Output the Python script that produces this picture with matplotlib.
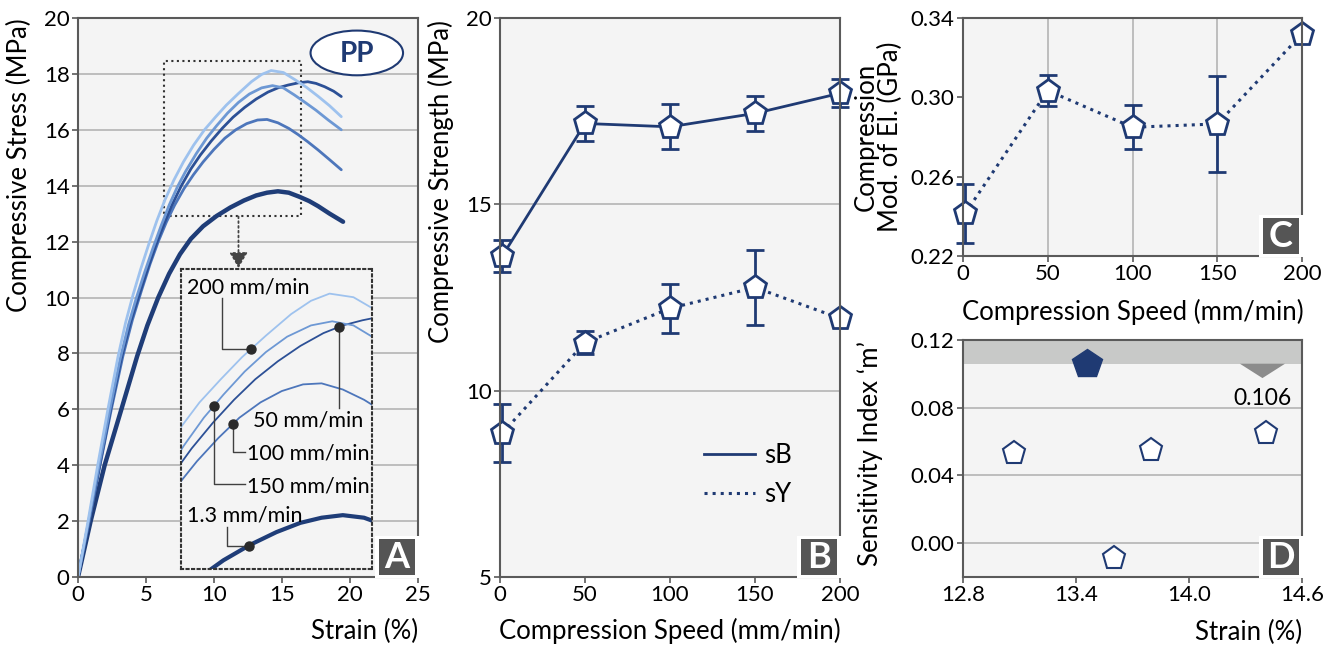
import numpy as np
import matplotlib
matplotlib.use("Agg")
import matplotlib.pyplot as plt
from matplotlib.patches import Rectangle, Ellipse, Polygon

plt.rcParams['font.family'] = ['Lato', 'DejaVu Sans']
plt.rcParams['font.size'] = 16

# ---------------- data ----------------
# panel A: stress-strain curves
strain_200 = [0, 0.74, 1.45, 2.2, 2.95, 3.5, 4.05, 4.6, 5.2, 5.8, 6.4, 7.05, 7.75, 8.5, 9.3, 10.1,
              10.9, 11.8, 12.75, 13.5, 14.2, 15.1, 15.93, 16.8, 17.65, 18.5, 19.36]
stress_200 = [0, 2, 4, 6, 7.9, 9.1, 10.1, 11.0, 11.9, 12.75, 13.5, 14.2, 14.85, 15.45, 16.0, 16.45,
              16.88, 17.3, 17.72, 17.98, 18.12, 18.05, 17.8, 17.52, 17.2, 16.86, 16.47]
strain_150 = [0, 0.78, 1.55, 2.35, 3.1, 3.7, 4.3, 4.9, 5.5, 6.1, 6.7, 7.3, 7.9, 8.7, 9.46, 10.2,
              11.0, 11.8, 12.6, 13.5, 14.3, 15.1, 15.9, 16.7, 17.5, 18.4, 19.36]
stress_150 = [0, 2, 4, 6, 7.8, 9.0, 10.0, 10.9, 11.75, 12.55, 13.3, 13.95, 14.5, 15.15, 15.7, 16.15,
              16.6, 16.98, 17.28, 17.5, 17.58, 17.5, 17.25, 16.98, 16.7, 16.35, 16.0]
strain_100 = [0, 0.82, 1.62, 2.45, 3.3, 4.0, 4.7, 5.3, 5.9, 6.5, 7.1, 7.8, 8.5, 9.2, 10.0, 10.8,
              11.6, 12.4, 13.2, 13.9, 14.7, 15.5, 16.18, 16.9, 17.65, 18.5, 19.36]
stress_100 = [0, 2, 4, 6, 7.9, 9.2, 10.3, 11.2, 12.0, 12.7, 13.3, 13.9, 14.4, 14.85, 15.3, 15.7,
              16.0, 16.22, 16.35, 16.37, 16.25, 16.05, 15.83, 15.57, 15.28, 14.93, 14.57]
strain_50 = [0, 0.8, 1.6, 2.4, 3.2, 3.85, 4.5, 5.1, 5.7, 6.3, 6.9, 7.6, 8.3, 9.0, 9.8, 10.6,
             11.4, 12.25, 13.1, 13.97, 14.7, 15.44, 16.2, 16.9, 17.5, 18.14, 18.8, 19.36]
stress_50 = [0, 2, 4, 6, 7.85, 9.1, 10.1, 11.0, 11.85, 12.6, 13.3, 14.0, 14.6, 15.1, 15.6, 16.05,
             16.45, 16.8, 17.1, 17.35, 17.5, 17.6, 17.68, 17.72, 17.66, 17.54, 17.38, 17.19]
strain_13 = [0, 0.93, 1.96, 3.19, 4.35, 5.1, 5.9, 6.7, 7.5, 8.3, 9.2, 10.2, 11.2, 12.2, 13.1,
             13.9, 14.7, 15.5, 16.3, 17.0, 17.65, 18.5, 19.49]
stress_13 = [0, 2, 4, 6, 7.9, 9.0, 10.0, 10.85, 11.55, 12.1, 12.55, 12.92, 13.22, 13.47, 13.65,
             13.75, 13.8, 13.75, 13.6, 13.45, 13.27, 13.0, 12.71]

# panels B, C
speed = [1.3, 50, 100, 150, 200]
sB = [13.61, 17.17, 17.08, 17.44, 17.98]
sB_err = [0.43, 0.48, 0.6, 0.48, 0.38]
sY = [8.86, 11.29, 12.21, 12.77, 11.94]
sY_err = [0.78, 0.3, 0.65, 1.0, 0.1]
modulus = [0.2415, 0.3034, 0.2849, 0.2866, 0.3319]
modulus_err = [0.0147, 0.008, 0.0112, 0.024, 0.0]

# panel D
d_strain = [13.07, 13.60, 13.80, 14.41]
d_m = [0.053, -0.009, 0.055, 0.065]
d_best_strain = 13.46
m_limit = 0.106

navy = '#1f3a73'
c200, c150, c100, c50, c13 = '#9ec2ee', '#6d98d4', '#4d76bb', '#2c5096', '#1f3d78'
bg = '#f4f4f4'
grid_c = '#b4b4b4'
spine_c = '#5a5a5a'
LBL = 18.5

W, H = 1338, 651
fig = plt.figure(figsize=(W / 100, H / 100), dpi=100)


def box(left, top, right, bottom):
    return [left / W, 1 - bottom / H, (right - left) / W, (bottom - top) / H]


def style(ax):
    ax.set_facecolor(bg)
    for s in ax.spines.values():
        s.set_color(spine_c)
        s.set_linewidth(1.5)
    ax.tick_params(length=4, width=1.2, color=spine_c, labelsize=16, pad=2)
    ax.set_axisbelow(True)


def letter(right, bottom, txt):
    # white gap + dark square with a white letter, placed in figure pixels
    fig.add_artist(Rectangle(((right - 43) / W, 1 - (bottom + 1) / H), 47 / W, 42 / H,
                             transform=fig.transFigure, facecolor='white', edgecolor='none', zorder=9))
    fig.add_artist(Rectangle(((right - 39) / W, 1 - (bottom - 2) / H), 36 / W, 36 / H,
                             transform=fig.transFigure, facecolor='#555555', edgecolor='none', zorder=10))
    fig.text((right - 21) / W, 1 - (bottom - 20) / H, txt, ha='center', va='center',
             color='white', fontsize=26, fontweight='bold', zorder=11)


def noclip(container):
    for art in container.get_children():
        art.set_clip_on(False)


# ---------------- panel A ----------------
axA = fig.add_axes(box(78, 18, 418, 577))
style(axA)
curves = [(strain_13, stress_13, c13, 3.2), (strain_100, stress_100, c100, 2.0),
          (strain_50, stress_50, c50, 2.0), (strain_150, stress_150, c150, 2.0),
          (strain_200, stress_200, c200, 2.0)]
for sx, sy, c, lw in curves:
    axA.plot(sx, sy, color=c, lw=lw, solid_capstyle='round', solid_joinstyle='round')
axA.set_xlim(0, 25)
axA.set_ylim(0, 20)
axA.set_xticks(range(0, 26, 5))
axA.set_yticks(range(0, 21, 2))
axA.yaxis.grid(True, color=grid_c, lw=1.2)
axA.set_ylabel('Compressive Stress (MPa)', fontsize=LBL)
axA.yaxis.set_label_coords(-0.135, 0.737)
axA.text(1.0, -0.097, 'Strain (%)', transform=axA.transAxes, ha='right', va='center', fontsize=LBL)
axA.add_patch(Rectangle((6.3, 12.9), 10.1, 5.56, fill=False, ls=':', lw=1.5, ec='#333333'))
axA.annotate('', xy=(11.8, 11.05), xytext=(11.8, 12.9),
             arrowprops=dict(arrowstyle='-|>,head_width=0.35,head_length=0.6', ls=':',
                             lw=1.3, color='#444444', shrinkA=0, shrinkB=0))
axA.add_patch(Ellipse((20.5, 18.75), 6.8, 1.6, facecolor='white', edgecolor=navy, lw=1.5))
axA.text(20.5, 18.72, 'PP', ha='center', va='center', fontsize=20, fontweight='bold', color=navy)

# inset
ins = fig.add_axes(box(181, 269, 372, 569))
ins.set_facecolor(bg)
ins.set_xticks([])
ins.set_yticks([])
for s in ins.spines.values():
    s.set_linestyle(':')
    s.set_linewidth(1.5)
    s.set_color('#333333')
xl, yl = (8.6, 15.8), (12.75, 18.6)
ins.set_xlim(*xl)
ins.set_ylim(*yl)
for sx, sy, c, lw in curves:
    ins.plot(sx, sy, color=c, lw=1.3 if lw < 3 else 3.0, solid_joinstyle='round')


def px(x, y):
    return (xl[0] + (x - 181) / 191 * (xl[1] - xl[0]),
            yl[0] + (569 - y) / 300 * (yl[1] - yl[0]))


lead = dict(color='#404040', lw=1.0)
dot = dict(marker='o', ms=6.5, color='#2a2a2a', zorder=5)
fs_in = 15.5

# 200 mm/min
d = (11.24, np.interp(11.24, strain_200, stress_200))
p1 = px(222, 298)
ins.plot([p1[0], p1[0], d[0]], [p1[1], d[1], d[1]], **lead)
ins.plot(*d, **dot)
ins.text(*px(248, 287), '200 mm/min', ha='center', va='center', fontsize=fs_in)
# 50 mm/min
d = (14.55, np.interp(14.55, strain_50, stress_50))
p1 = px(339, 408)
ins.plot([d[0], d[0]], [d[1], p1[1]], **lead)
ins.plot(*d, **dot)
ins.text(*px(308, 420), '50 mm/min', ha='center', va='center', fontsize=fs_in)
# 100 mm/min
d = (10.56, np.interp(10.56, strain_100, stress_100))
p1 = px(233, 452)
p2 = px(245, 452)
ins.plot([d[0], d[0], p2[0]], [d[1], p1[1], p1[1]], **lead)
ins.plot(*d, **dot)
ins.text(*px(247, 453), '100 mm/min', ha='left', va='center', fontsize=fs_in)
# 150 mm/min
d = (9.85, np.interp(9.85, strain_150, stress_150))
p1 = px(214, 484)
p2 = px(245, 484)
ins.plot([d[0], d[0], p2[0]], [d[1], p1[1], p1[1]], **lead)
ins.plot(*d, **dot)
ins.text(*px(247, 486), '150 mm/min', ha='left', va='center', fontsize=fs_in)
# 1.3 mm/min
d = (11.16, np.interp(11.16, strain_13, stress_13))
p1 = px(227, 527)
ins.plot([p1[0], p1[0], d[0]], [p1[1], d[1], d[1]], **lead)
ins.plot(*d, **dot)
ins.text(*px(245, 515), '1.3 mm/min', ha='center', va='center', fontsize=fs_in)

# ---------------- panel B ----------------
axB = fig.add_axes(box(500, 18, 840, 577))
style(axB)
mk = dict(marker='p', ms=17, mfc='white', mec=navy, mew=2.0)
eb = dict(ecolor=navy, elinewidth=2.0, capsize=6.5, capthick=2.0)
noclip(axB.errorbar(speed, sB, yerr=sB_err, color=navy, lw=2.0, **mk, **eb))
noclip(axB.errorbar(speed, sY, yerr=sY_err, color=navy, lw=2.2, ls=':', **mk, **eb))
axB.set_xlim(0, 200)
axB.set_ylim(5, 20)
axB.set_xticks(range(0, 201, 50))
axB.set_yticks([5, 10, 15, 20])
axB.yaxis.grid(True, color=grid_c, lw=1.2)
axB.set_ylabel('Compressive Strength (MPa)', fontsize=LBL)
axB.yaxis.set_label_coords(-0.135, 0.707)
axB.text(0.5, -0.097, 'Compression Speed (mm/min)', transform=axB.transAxes,
         ha='center', va='center', fontsize=LBL)
hB, = axB.plot([], [], color=navy, lw=2.0)
hY, = axB.plot([], [], color=navy, lw=2.2, ls=':')
axB.legend([hB, hY], ['sB', 'sY'], loc='center left', bbox_to_anchor=(0.6, 0.183),
           frameon=False, fontsize=LBL, handlelength=2.0, handletextpad=0.35,
           labelspacing=0.55, borderpad=0, borderaxespad=0)

# ---------------- panel C ----------------
axC = fig.add_axes(box(963, 18, 1302, 256))
style(axC)
noclip(axC.errorbar(speed, modulus, yerr=modulus_err, color=navy, lw=2.2, ls=':', **mk, **eb))
axC.set_xlim(0, 200)
axC.set_ylim(0.22, 0.34)
axC.set_xticks(range(0, 201, 50))
axC.set_yticks([0.22, 0.26, 0.30, 0.34])
axC.set_yticklabels(['0.22', '0.26', '0.30', '0.34'])
axC.xaxis.grid(True, color=grid_c, lw=1.2)
axC.set_ylabel('Compression\nMod. of El. (GPa)', fontsize=LBL, linespacing=0.95)
axC.yaxis.set_label_coords(-0.178, 0.5)
axC.text(0.5, -0.235, 'Compression Speed (mm/min)', transform=axC.transAxes,
         ha='center', va='center', fontsize=LBL)

# ---------------- panel D ----------------
axD = fig.add_axes(box(963, 340, 1302, 577))
style(axD)
axD.axhspan(m_limit, 0.12, color='#c8c9c8', zorder=0.5, lw=0)
axD.add_patch(Polygon([(d_best_strain + 0.81, m_limit), (d_best_strain + 1.05, m_limit),
                       (d_best_strain + 0.93, m_limit - 0.0085)], closed=True,
                      facecolor='#8c8c8c', edgecolor='none', zorder=2))
axD.text(d_best_strain + 0.93, 0.0855, f'{m_limit:.3f}', ha='center', va='center', fontsize=16.5)
axD.plot(d_strain, d_m, ls='none', marker='p', ms=17, mfc='white', mec=navy, mew=1.5,
         zorder=3, clip_on=False)
axD.plot([d_best_strain], [m_limit], ls='none', marker='p', ms=22, mfc=navy, mec=navy, zorder=3)
axD.set_xlim(12.8, 14.6)
axD.set_ylim(-0.02, 0.12)
axD.set_xticks([12.8, 13.4, 14.0, 14.6])
axD.set_xticklabels(['12.8', '13.4', '14.0', '14.6'])
axD.set_yticks([0.0, 0.04, 0.08, 0.12])
axD.set_yticklabels(['0.00', '0.04', '0.08', '0.12'])
axD.yaxis.grid(True, color=grid_c, lw=1.2)
axD.set_ylabel('Sensitivity Index \u2018m\u2019', fontsize=LBL)
axD.yaxis.set_label_coords(-0.235, 0.52)
axD.text(1.0, -0.232, 'Strain (%)', transform=axD.transAxes, ha='right', va='center', fontsize=LBL)

letter(418, 577, 'A')
letter(840, 577, 'B')
letter(1302, 256, 'C')
letter(1302, 577, 'D')

fig.savefig('out.png', dpi=100, facecolor='white')
